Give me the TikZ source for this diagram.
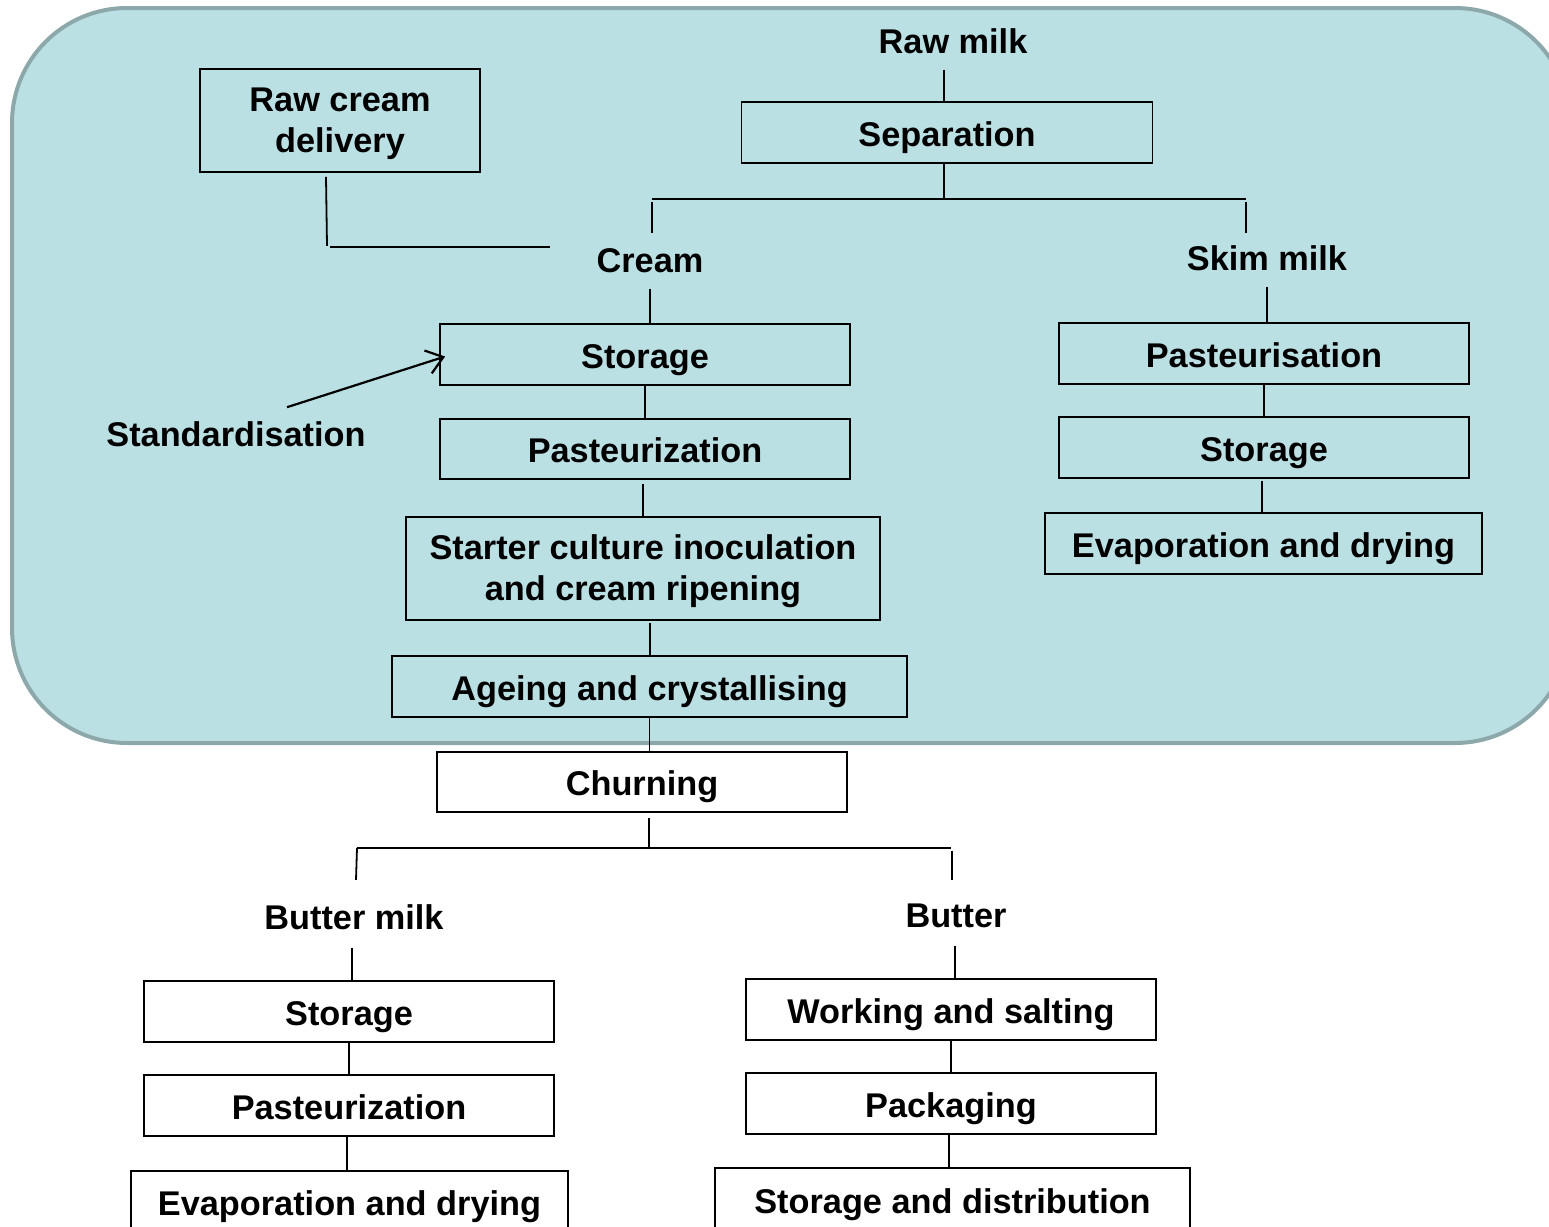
\documentclass[tikz,border=0pt]{standalone}
\usepackage{fontspec}
\setmainfont{Liberation Sans}
\usetikzlibrary{calc,arrows.meta}
\definecolor{panel}{HTML}{BBE0E3}
\definecolor{panelline}{HTML}{8CA8AA}
\begin{document}
\begin{tikzpicture}[x=1pt,y=-1pt,
  every node/.style={font=\bfseries\fontsize{34.3}{41}\selectfont, inner sep=0pt, align=center},
  sl/.style={text height=32pt, text depth=5pt},
  pbox/.style={draw=black, line width=1.8pt, minimum width=#1, sl},
  pbox/.default=410pt,
  pboxtwo/.style={draw=black, line width=1.8pt, minimum width=#1},
  lbl/.style={minimum height=60pt, sl},
  conn/.style={line width=1.8pt, black}]
\useasboundingbox (0,0) rectangle (1549,1226);
\begin{scope}
\clip (0,0) rectangle (1549,1226);
\draw[fill=panel, draw=panelline, line width=4pt, rounded corners=115pt] (12,8) rectangle (1570,743);

% top
\node[lbl] (rawmilk) at (953,39.5) {Raw milk};
\node[pbox=411pt, minimum height=61pt] (sep) at (947,132.5) {Separation};
\node[pboxtwo=280pt, minimum height=103pt] (rcd) at (340,120.5) {\rule{0pt}{31pt}Raw cream\\delivery};
\node[lbl] (cream) at (650,258.5) {Cream};
\node[lbl] (skim) at (1267,256.5) {Skim milk};

% cream branch
\node[pbox, minimum height=61pt] (st1) at (645,354.5) {Storage};
\node[pbox, minimum height=60pt] (pa1) at (645,449) {Pasteurization};
\node[pboxtwo=474pt, minimum height=103pt] (sc) at (643,568.5) {\rule{0pt}{31pt}Starter culture inoculation\\and cream ripening};
\node[pbox=515pt, minimum height=61pt] (age) at (649.5,686.5) {Ageing and crystallising};
\node (stdz) at (236,434) {Standardisation};

% skim branch
\node[pbox, minimum height=61pt] (pa2) at (1264,353.5) {Pasteurisation};
\node[pbox, minimum height=61pt] (st2) at (1264,447.5) {Storage};
\node[pbox=437pt, minimum height=61pt] (ev2) at (1263.5,543.5) {Evaporation and drying};

\node[pbox, minimum height=60pt] (churn) at (642,782) {Churning};
\node[lbl] (bm) at (354,915.5) {Butter milk};
\node[lbl] (bt) at (956,913.5) {Butter};
\node[pbox, minimum height=61pt] (st3) at (349,1011.5) {Storage};
\node[pbox, minimum height=61pt] (pa3) at (349,1105.5) {Pasteurization};
\node[pbox=437pt, minimum height=62pt, anchor=north] (ev3) at (349.5,1170) {Evaporation and drying};
\node[pbox, minimum height=61pt] (ws) at (951,1009.5) {Working and salting};
\node[pbox, minimum height=61pt] (pk) at (951,1103.5) {Packaging};
\node[pbox=475pt, minimum height=64pt, anchor=north] (sd) at (952.5,1167) {Storage and distribution};

% connectors
\draw[conn] (rawmilk.south) ++(-9,0) coordinate (rm1) -- (rm1 |- sep.north);
\draw[conn] (sep.south -| rm1) coordinate (s1) -- ++(0,35) coordinate (sbranch);
\draw[conn] ($(sbranch -| cream.north)+(2,0)$) -- ($(sbranch -| skim.north)+(-21,0)$);
\draw[conn] ($(sbranch -| cream.north)+(2,3)$) -- ++(0,31);
\draw[conn] ($(sbranch -| skim.north)+(-21,3)$) -- ++(0,31);
\draw[conn] ($(rcd.south)+(-14,4)$) coordinate (r1) -- ++(1,69);
\draw[conn] (r1 |- cream.center) ++(4,-11.5) -- ++(220,0);
\draw[conn] (cream.south) -- (cream.south |- st1.north);
\draw[conn] (st1.south) -- (st1.south |- pa1.north);
\draw[conn] ($(pa1.south)+(-2,4)$) -- ($(pa1.south |- sc.north)+(-2,0)$);
\draw[conn] ($(sc.south)+(7,2)$) -- ($(sc.south |- age.north)+(7,0)$);
\draw[conn] (age.south) -- (age.south |- churn.north);
\draw[conn] ($(churn.south)+(7,5)$) coordinate (c1) -- ++(0,30) coordinate (cbranch);
\draw[conn] (cbranch -| bm.north) ++(3,0) -- ($(cbranch -| bt.north)+(-5,0)$);
\draw[conn] ($(cbranch -| bm.north)+(3,0)$) -- ++(-1,32);
\draw[conn] ($(cbranch -| bt.north)+(-4,3)$) -- ++(0,29);
\draw[conn] ($(bm.south)+(-2,2)$) -- ($(bm.south |- st3.north)+(-2,0)$);
\draw[conn] (st3.south) -- (st3.south |- pa3.north);
\draw[conn] ($(pa3.south)+(-2,0)$) -- ($(pa3.south |- ev3.north)+(-2,0)$);
\draw[conn] ($(bt.south)+(-1,2)$) -- ($(bt.south |- ws.north)+(-1,0)$);
\draw[conn] (ws.south) -- (ws.south |- pk.north);
\draw[conn] ($(pk.south)+(-2,0)$) -- ($(pk.south |- sd.north)+(-2,0)$);
\draw[conn] (skim.south) -- (skim.south |- pa2.north);
\draw[conn] (pa2.south) -- (pa2.south |- st2.north);
\draw[conn] ($(st2.south)+(-2,2)$) -- ($(st2.south |- ev2.north)+(-2,0)$);
\draw[line width=2.2pt, -{Straight Barb[length=16pt,width=24pt,line width=2.2pt]}] ($(stdz.north)+(51,-14)$) -- ($(st1.west)+(6,2)$);
\end{scope}
\end{tikzpicture}
\end{document}
